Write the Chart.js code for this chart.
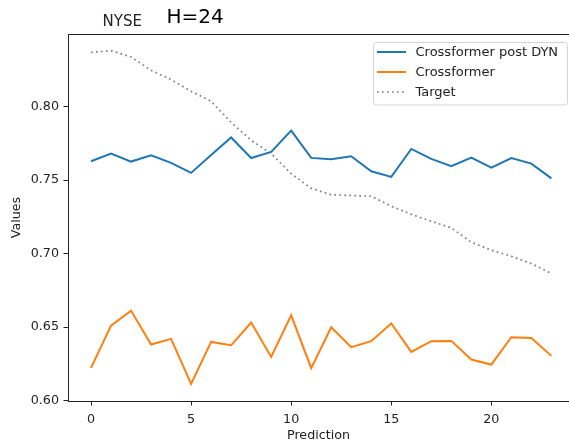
<!DOCTYPE html>
<html>
<head>
<meta charset="utf-8">
<script src="https://cdn.jsdelivr.net/npm/chart.js@4/dist/chart.umd.min.js"></script>
<style>
  html, body { margin: 0; padding: 0; background: #fff; }
  #wrap { width: 569px; height: 447px; position: relative; }
</style>
</head>
<body>
<div id="wrap"><canvas id="ch"></canvas></div>
<script>
// NYSE H=24 - prediction vs target

const steps = [0,1,2,3,4,5,6,7,8,9,10,11,12,13,14,15,16,17,18,19,20,21,22,23];

const postDyn = [0.7628, 0.7680, 0.7626, 0.7669, 0.7617, 0.7549, 0.7670, 0.7790, 0.7650, 0.7692, 0.7837, 0.7651,
                 0.7642, 0.7662, 0.7560, 0.7522, 0.7712, 0.7644, 0.7594, 0.7653, 0.7585, 0.7650, 0.7612, 0.7512];

const crossformer = [0.6222, 0.6510, 0.6612, 0.6381, 0.6420, 0.6113, 0.6399, 0.6376, 0.6531, 0.6297, 0.6580, 0.6220,
                     0.6499, 0.6363, 0.6404, 0.6524, 0.6331, 0.6404, 0.6406, 0.6279, 0.6245, 0.6431, 0.6426, 0.6304];

const target = [0.8369, 0.8381, 0.8338, 0.8247, 0.8184, 0.8104, 0.8036, 0.7893, 0.7771, 0.7680, 0.7544, 0.7444,
                0.7401, 0.7395, 0.7390, 0.7322, 0.7267, 0.7220, 0.7175, 0.7077, 0.7023, 0.6982, 0.6932, 0.6864];

const seriesNames = ['Crossformer post DYN', 'Crossformer', 'Target'];
const xTicks = [0, 5, 10, 15, 20];
const yTicks = [0.60, 0.65, 0.70, 0.75, 0.80];

const FONT = 'DejaVu Sans';

function pts(vals) {
    return steps.map((s, i) => ({ x: s, y: vals[i] }));
}

// top spine + titles + legend box (matplotlib look)
const decor = {
    id: 'decor',
    afterDraw(chart) {
        const c = chart.ctx, a = chart.chartArea;
        c.save();
        c.strokeStyle = '#222';
        c.lineWidth = 1;
        c.beginPath();
        c.moveTo(a.left, a.top + 0.5);
        c.lineTo(569, a.top + 0.5);
        c.stroke();

        c.fillStyle = '#222';
        c.textBaseline = 'alphabetic';
        c.textAlign = 'left';
        c.font = '15px "' + FONT + '"';
        c.fillText('NYSE', 102.5, 26);
        c.fillStyle = '#000';
        c.font = '20px "' + FONT + '"';
        c.fillText('H=24', 166.5, 23);

        // legend
        const bx = 373.5, by = 42.5, bw = 194, bh = 62.5, r = 3;
        c.fillStyle = 'rgba(255,255,255,0.8)';
        c.strokeStyle = '#d4d4d4';
        c.lineWidth = 1;
        c.beginPath();
        c.roundRect(bx, by, bw, bh, r);
        c.fill();
        c.stroke();
        c.font = '13px "' + FONT + '"';
        c.textBaseline = 'middle';
        chart.data.datasets.forEach((ds, i) => {
            const y = 52 + i * 20;
            c.strokeStyle = ds.borderColor;
            c.lineWidth = ds.borderWidth;
            c.setLineDash(ds.borderDash || []);
            c.beginPath();
            c.moveTo(377, y);
            c.lineTo(406, y);
            c.stroke();
            c.setLineDash([]);
            c.fillStyle = '#222';
            c.fillText(ds.label, 415.5, y + 1);
        });
        c.restore();
    }
};

new Chart(document.getElementById('ch'), {
    type: 'line',
    data: {
        datasets: [
            { label: seriesNames[0], data: pts(postDyn), borderColor: '#1f77b4', borderWidth: 2, pointRadius: 0, tension: 0 },
            { label: seriesNames[1], data: pts(crossformer), borderColor: '#ff7f0e', borderWidth: 2, pointRadius: 0, tension: 0 },
            { label: seriesNames[2], data: pts(target), borderColor: '#808080', borderWidth: 1.7, borderDash: [1.7, 3.3], pointRadius: 0, tension: 0 }
        ]
    },
    options: {
        responsive: true,
        maintainAspectRatio: false,
        animation: false,
        devicePixelRatio: 1,
        layout: { padding: { top: 34, left: 0, right: 0, bottom: 0 } },
        plugins: { legend: { display: false }, tooltip: { enabled: false } },
        scales: {
            x: {
                type: 'linear',
                min: -1.15, max: 23.88,
                afterBuildTicks: s => { s.ticks = xTicks.map(v => ({ value: v })); },
                afterFit: s => { s.height = 46; s.paddingRight = 0; },
                grid: { drawOnChartArea: false, drawTicks: true, tickLength: 4.5, tickColor: '#222' },
                border: { display: true, color: '#222', width: 1 },
                ticks: { color: '#222', font: { family: FONT, size: 12.7 }, padding: 7, maxRotation: 0,
                         callback: v => String(v) },
                title: { display: true, text: 'Prediction', color: '#222', font: { family: FONT, size: 12.7 }, padding: { top: 0, bottom: 4 } }
            },
            y: {
                type: 'linear',
                min: 0.5997, max: 0.8494,
                afterBuildTicks: s => { s.ticks = yTicks.map(v => ({ value: v })); },
                afterFit: s => { s.width = 68; },
                grid: { drawOnChartArea: false, drawTicks: true, tickLength: 4.5, tickColor: '#222' },
                border: { display: true, color: '#222', width: 1 },
                ticks: { color: '#222', font: { family: FONT, size: 12.7 }, padding: 4.5,
                         callback: v => Number(v).toFixed(2) },
                title: { display: true, text: 'Values', color: '#222', font: { family: FONT, size: 12.7 }, padding: { top: 9, bottom: 0 } }
            }
        }
    },
    plugins: [decor]
});
</script>
</body>
</html>
